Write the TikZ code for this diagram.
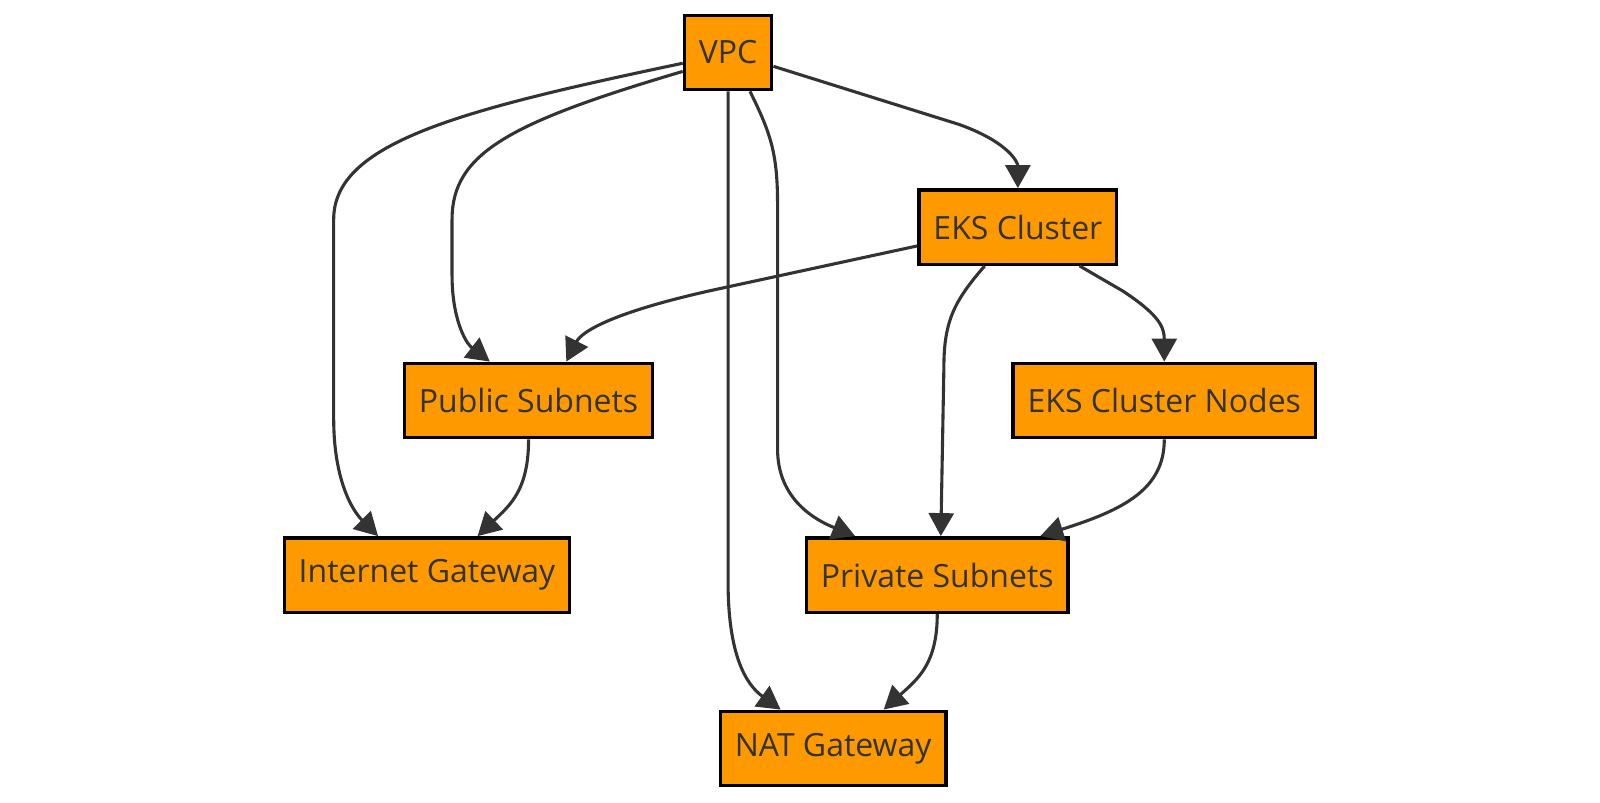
\documentclass[tikz,border=0pt]{standalone}
\usepackage{fontspec}
\setmainfont{Open Sans}
\usetikzlibrary{calc,positioning}
\usetikzlibrary{arrows.meta}
\definecolor{awsorange}{HTML}{FF9900}
\definecolor{inkgrey}{HTML}{333333}

\begin{document}
\begin{tikzpicture}[x=0.5102pt,y=-0.5102pt,
		res/.style={draw=black,line width=1.7pt,fill=awsorange,text=inkgrey,font=\fontsize{16pt}{19pt}\selectfont,minimum height=37.2pt,inner xsep=7.2pt},
		link/.style={draw=inkgrey,line width=1.55pt,-{Triangle[length=11.5pt,width=12.5pt]}}]

		\useasboundingbox (0,0) rectangle (1568,786);

		% nodes
		\node[res] (vpc) at (713.5,51.5) {VPC};
		\node[res] (eks) at (997.5,222.5) {EKS Cluster};
		\node[res] (pub) at (518,392.5) {Public Subnets};
		\node[res] (nodes) at (1141,392.5) {EKS Cluster Nodes};
		\node[res] (igw) at (418.5,563.5) {Internet Gateway};
		\node[res] (priv) at (918.5,563.5) {Private Subnets};
		\node[res] (nat) at (816.5,733.5) {NAT Gateway};

		% from the vpc
		\draw[link] ($(vpc.west)+(0,10.5)$) .. controls (450,108) and (327,140) .. (327,215) -- (327,410)
			.. controls (327,470) and (345,500) .. ($(igw.north)+(-48,0)$);
		\draw[link] ($(vpc.west)+(0,18.5)$) .. controls (500,120) and (443,150) .. (443,215) -- (443,270)
			.. controls (443,310) and (455,335) .. ($(pub.north)+(-38,0)$);
		\draw[link] ($(vpc.south)+(0,0)$) -- (713.5,570) .. controls (713.5,640) and (730,670) .. ($(nat.north)+(-51.5,0)$);
		\draw[link] ($(vpc.south)+(21.5,0)$) .. controls (755,130) and (762,150) .. (762,200) -- (762,440)
			.. controls (762,490) and (800,510) .. ($(priv.north)+(-80.5,0)$);
		\draw[link] ($(vpc.east)+(0,13.5)$) -- (940,122) .. controls (990,140) and (997.5,160) .. (eks.north);

		% from the cluster
		\draw[link] ($(eks.west)+(0,18.5)$) -- (700,284) .. controls (600,306) and (570,325) .. ($(pub.north)+(37,0)$);
		\draw[link] ($(eks.south)+(-32.5,0)$) .. controls (935,295) and (925,315) .. (925,360) -- ($(priv.north)+(3.5,0)$);
		\draw[link] ($(eks.south)+(60.5,0)$) -- (1100,285) .. controls (1135,308) and (1141,320) .. (nodes.north);

		% down to the gateways
		\draw[link] (nodes.south) .. controls (1141,480) and (1100,500) .. ($(priv.north)+(101,0)$);
		\draw[link] (pub.south) .. controls (518,480) and (500,495) .. ($(igw.north)+(49.5,0)$);
		\draw[link] (priv.south) .. controls (918.5,650) and (900,665) .. ($(nat.north)+(49.5,0)$);
	\end{tikzpicture}
\end{document}
